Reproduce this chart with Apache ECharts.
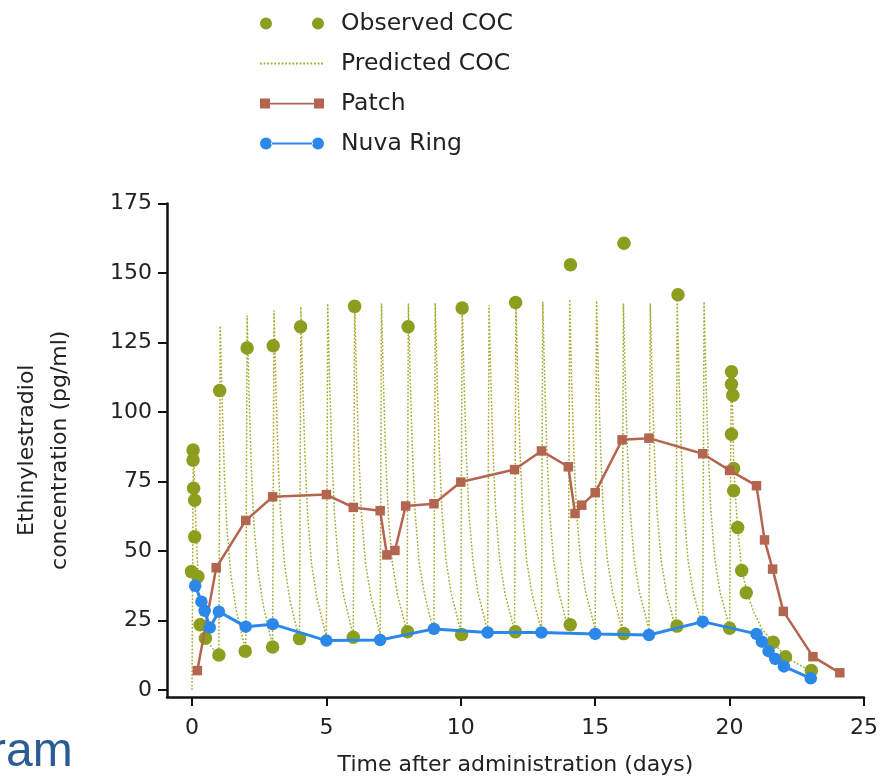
<!DOCTYPE html>
<html><head><meta charset="utf-8">
<script src="https://cdn.jsdelivr.net/npm/echarts@6/dist/echarts.min.js"></script>
<style>html,body{margin:0;padding:0;background:#fff}#c{width:882px;height:777px}</style>
</head><body><div id="c"></div>
<script>
// [day, pg/ml]
const observedCOC = [[0.04,86.3],[0.04,82.7],[0.06,72.6],[0.1,68.3],[0.1,55.1],[-0.02,42.6],[0.22,40.8],[0.3,23.5],[0.5,18.6],[1.0,12.6],[1.03,107.7],[1.98,14],[2.05,123],[3.0,15.5],[3.02,123.8],[4.0,18.5],[4.04,130.7],[6.0,19],[6.05,138],[8.02,21],[8.04,130.7],[10.03,20],[10.05,137.4],[12.03,21],[12.04,139.4],[14.07,23.5],[14.08,153],[16.06,20.3],[16.07,160.7],[18.04,23],[18.08,142.2],[20.0,22.2],[20.07,114.5],[20.07,110],[20.12,106],[20.07,92],[20.15,79.7],[20.15,71.7],[20.3,58.5],[20.45,43],[20.62,35],[21.62,17.2],[22.08,12],[23.04,7]];

const predictedCOC = [
[0,0],[0.05,88],[0.12,66],[0.2,46],[0.3,30],[0.45,21],[0.65,16.5],[0.85,14],
[1,12.8],[1.05,131],[1.12,104],[1.2,79],[1.3,58],[1.45,41],[1.65,28.5],[1.85,20],
[2,14.5],[2.05,134.7],[2.12,107],[2.2,82],[2.3,60],[2.45,43],[2.65,30.5],[2.85,22],
[3,16],[3.05,136.5],[3.12,109],[3.2,84],[3.3,62],[3.45,44.5],[3.65,32],[3.85,24],
[4,18],[4.05,137.8],[4.12,110],[4.2,85],[4.3,63],[4.45,45],[4.65,33],[4.85,25],
[5,19],[5.05,139],[5.12,111],[5.2,85.5],[5.3,63.5],[5.45,45.5],[5.65,33.5],[5.85,25.5],
[6,19.5],[6.05,139.8],[6.12,112],[6.2,86],[6.3,64],[6.45,46],[6.65,34],[6.85,26],
[7,20],[7.05,139],[7.12,111.5],[7.2,85.5],[7.3,63.5],[7.45,46],[7.65,34],[7.85,26.5],
[8,20.5],[8.05,139],[8.12,111.5],[8.2,86],[8.3,64],[8.45,46],[8.65,34.5],[8.85,26.5],
[9,21],[9.05,139.2],[9.12,111.5],[9.2,86],[9.3,64],[9.45,46.5],[9.65,34.5],[9.85,27],
[10,21],[10.05,139],[10.12,111.5],[10.2,86],[10.3,64],[10.45,46.5],[10.65,34.5],[10.85,27],
[11,21],[11.05,138.5],[11.12,111],[11.2,85.5],[11.3,64],[11.45,46.5],[11.65,34.5],[11.85,27],
[12,21],[12.05,139.5],[12.12,112],[12.2,86],[12.3,64.5],[12.45,46.5],[12.65,34.5],[12.85,27],
[13,21.5],[13.05,139.7],[13.12,112],[13.2,86.5],[13.3,64.5],[13.45,47],[13.65,35],[13.85,27.5],
[14,21.5],[14.05,140.5],[14.12,112.5],[14.2,87],[14.3,65],[14.45,47],[14.65,35],[14.85,27.5],
[15,21.5],[15.05,140],[15.12,112],[15.2,86.5],[15.3,64.5],[15.45,47],[15.65,35],[15.85,27.5],
[16,21.5],[16.05,139],[16.12,111.5],[16.2,86],[16.3,64.5],[16.45,47],[16.65,35],[16.85,27.5],
[17,21.5],[17.05,139],[17.12,111.5],[17.2,86],[17.3,64.5],[17.45,47],[17.65,35],[17.85,27.5],
[18,21.5],[18.05,140],[18.12,112],[18.2,86.5],[18.3,65],[18.45,47],[18.65,35],[18.85,28],
[19,22],[19.05,139.7],[19.12,112],[19.2,86.5],[19.3,65],[19.45,47],[19.65,35],[19.85,28],
[20,22],[20.06,114.5],[20.1,106],[20.15,82],[20.2,72],[20.3,58],[20.45,43.5],[20.65,35],[20.9,28],[21.2,22],[21.6,17.3],[22.1,12],[22.6,9],[23.05,6.8]
];

const patch = [[0.2,7],[0.9,44],[2,61],[3,69.5],[5,70.3],[6,65.7],[7,64.5],[7.25,48.6],[7.55,50.2],[7.95,66.2],[9,67],[10,74.8],[12,79.3],[13,86],[14,80.3],[14.25,63.5],[14.5,66.5],[15,71],[16,90],[17,90.6],[19,85],[20,79],[21,73.5],[21.3,54],[21.6,43.5],[22,28.3],[23.1,12],[24.1,6.2]];

const nuvaRing = [[0.12,37.5],[0.35,31.8],[0.47,28.5],[0.66,22.5],[1,28.2],[2,22.8],[3,23.7],[5,17.8],[7,18],[9,22],[11,20.7],[13,20.7],[15,20.2],[17,19.8],[19,24.6],[21,20.2],[21.2,17.4],[21.45,14],[21.7,11.2],[22.02,8.5],[23.02,4.2]];

const xTicks = [0,5,10,15,20,25];
const yTicks = [0,25,50,75,100,125,150,175];

const FONT = 'DejaVu Sans';
const cOlive = '#8c9e1e', cDot = '#a3ad32', cPatch = '#b4654f', cRing = '#2c88e8';

const chart = echarts.init(document.getElementById('c'), null, {renderer:'canvas'});
chart.setOption({
  animation:false,
  backgroundColor:'#fff',
  textStyle:{fontFamily:FONT},
  grid:{left:167,right:18,top:203.5,bottom:80,containLabel:false,outerBoundsMode:'none'},
  legend:{
    orient:'vertical', left:254, top:5, itemWidth:64, itemHeight:12, itemGap:13,
    selectedMode:false,
    textStyle:{fontSize:23.5,color:'#222',fontFamily:FONT,lineHeight:27,padding:[0,0,0,12]},
    data:[
      {name:'Observed COC', icon:'path://M0,6a6,6 0 1,0 12,0a6,6 0 1,0 -12,0zM52,6a6,6 0 1,0 12,0a6,6 0 1,0 -12,0z'},
      {name:'Predicted COC', itemStyle:{opacity:0}},
      {name:'Patch', icon:'path://M0,1h10v10h-10zM10,5.2h44v1.8h-44zM54,1h10v10h-10z'},
      {name:'Nuva Ring', icon:'path://M0,6a6,6 0 1,0 12,0a6,6 0 1,0 -12,0zM11,4.9h42v2.2h-42zM52,6a6,6 0 1,0 12,0a6,6 0 1,0 -12,0z'}
    ]
  },
  xAxis:{
    type:'value', min:-0.93, max:25,
    name:'Time after administration (days)', nameLocation:'middle', nameGap:57,
    nameTextStyle:{fontSize:22,color:'#222',fontFamily:FONT},
    axisLine:{onZero:false,lineStyle:{color:'#111',width:2.5}},
    axisTick:{show:true,length:9,lineStyle:{color:'#111',width:2},customValues:xTicks},
    axisLabel:{customValues:xTicks,fontSize:22,color:'#222',margin:20,fontFamily:FONT},
    splitLine:{show:false}
  },
  yAxis:{
    type:'value', min:-2.5, max:175,
    name:'Ethinylestradiol\nconcentration (pg/ml)', nameLocation:'middle', nameGap:90,
    nameMoveOverlap:false,
    nameTextStyle:{fontSize:22,color:'#222',fontFamily:FONT,lineHeight:33},
    axisLine:{onZero:false,lineStyle:{color:'#111',width:2.5}},
    axisTick:{show:true,length:9,lineStyle:{color:'#111',width:2},customValues:yTicks},
    axisLabel:{customValues:yTicks,fontSize:22,color:'#222',margin:15,fontFamily:FONT},
    splitLine:{show:false}
  },
  series:[
    {name:'Predicted COC', type:'line', data:predictedCOC, symbol:'none', silent:true, z:1,
     lineStyle:{color:cDot,width:1.5,type:[1.8,1.8]}, itemStyle:{color:cDot}},
    {name:'Observed COC', type:'scatter', data:observedCOC, symbol:'circle', symbolSize:13.5, z:2,
     itemStyle:{color:cOlive,opacity:1}},
    {name:'Patch', type:'line', data:patch, symbol:'rect', symbolSize:9.5, showAllSymbol:true, z:3,
     lineStyle:{color:cPatch,width:2.5}, itemStyle:{color:cPatch}},
    {name:'Nuva Ring', type:'line', data:nuvaRing, symbol:'circle', symbolSize:12.5, showAllSymbol:true, z:4,
     lineStyle:{color:cRing,width:3}, itemStyle:{color:cRing}}
  ],
  graphic:[
    {type:'text', x:-10, y:777, silent:true,
     style:{text:'ram', fontSize:48, fontFamily:'Liberation Sans', fill:'#2c5c94', textVerticalAlign:'bottom'}}
  ]
});
</script>
</body></html>
